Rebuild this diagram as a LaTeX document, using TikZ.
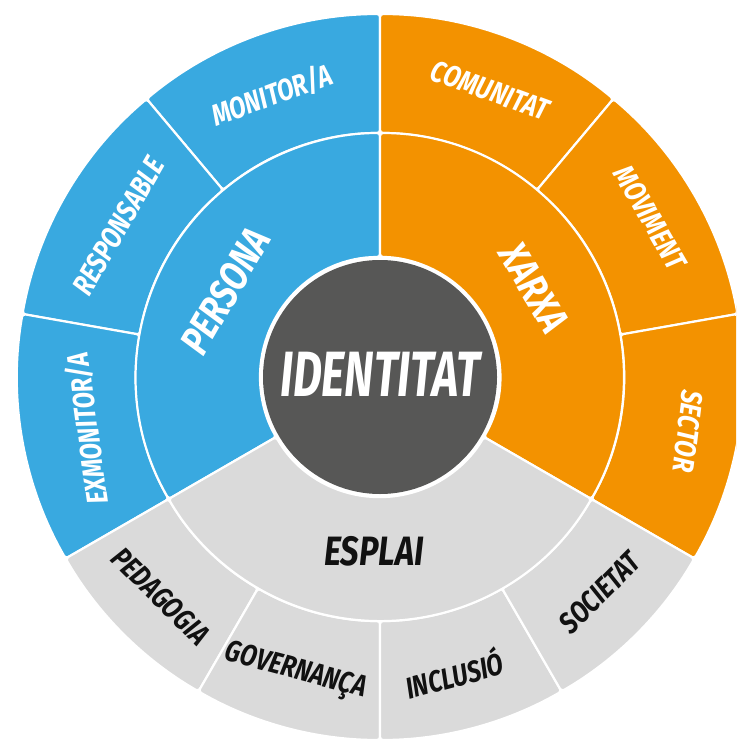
\documentclass[tikz,border=0pt]{standalone}
\usepackage{fontspec}
\newfontfamily\hand{Fira Sans}[FakeStretch=0.8]
\newfontfamily\handid{Fira Sans}[FakeStretch=0.7]
\definecolor{cblue}{HTML}{39A9E0}
\definecolor{corange}{HTML}{F39200}
\definecolor{cgrey}{HTML}{DADADA}
\definecolor{cdark}{HTML}{575756}
\definecolor{ctext}{HTML}{111111}
\newcommand\annseg[5]{%
  \filldraw[fill=#1, draw=white, line width=2.2pt, rounded corners=3pt]
    (#2:#4) arc[start angle=#2, end angle=#3, radius=#4]
    -- (#3:#5) arc[start angle=#3, end angle=#2, radius=#5] -- cycle;}
\tikzset{
  outerlbl/.style={font=\hand\bfseries\itshape\fontsize{30}{30}\selectfont, inner sep=0pt},
  innerlbl/.style={font=\hand\bfseries\itshape\fontsize{41}{41}\selectfont, inner sep=0pt},
  onblue/.style={text=white},
  ongrey/.style={text=ctext},
}
\begin{document}
\begin{tikzpicture}[x=1pt,y=1pt]
\useasboundingbox (0,0) rectangle (736,-741);
\clip (0,0) rectangle (736,-741);
\begin{scope}[shift={(380,-377)}]
  % outer ring
  \annseg{cblue}{90}{130}{244}{363}
  \annseg{cblue}{130}{170}{244}{363}
  \annseg{cblue}{170}{210}{244}{363}
  \annseg{corange}{50}{90}{244}{363}
  \annseg{corange}{10}{50}{244}{363}
  \annseg{corange}{-30}{10}{244}{363}
  \annseg{cgrey}{210}{240}{244}{363}
  \annseg{cgrey}{240}{270}{244}{363}
  \annseg{cgrey}{270}{300}{244}{363}
  \annseg{cgrey}{300}{330}{244}{363}
  % inner ring
  \annseg{cblue}{90}{210}{120}{244}
  \annseg{corange}{-30}{90}{120}{244}
  \annseg{cgrey}{210}{330}{120}{244}
  % centre
  \fill[cdark] (0,0) circle (117);
  \node[font=\handid\bfseries\itshape\fontsize{64}{64}\selectfont, text=white, inner sep=0pt] (identitat) at (0,3) {IDENTITAT};
  % inner labels
  \node[innerlbl, onblue, rotate=60] (persona) at (151:177) {PERSONA};
  \node[innerlbl, onblue, rotate=-60] (xarxa) at (30:178) {XARXA};
  \node[innerlbl, ongrey] (esplai) at (268:174) {ESPLAI};
  % outer labels
  \node[outerlbl, onblue, rotate=20] (monitora) at (111:302) {MONITOR/A};
  \node[outerlbl, onblue, rotate=60] (responsable) at (150:302) {RESPONSABLE};
  \node[outerlbl, onblue, rotate=98] (exmonitora) at (190:297) {EXMONITOR/A};
  \node[outerlbl, onblue, rotate=-20] (comunitat) at (69:307) {COMUNITAT};
  \node[outerlbl, onblue, rotate=-60] (moviment) at (30.5:314) {MOVIMENT};
  \node[outerlbl, onblue, rotate=-97] (sector) at (-10:313) {SECTOR};
  \node[outerlbl, ongrey, rotate=-45] (pedagogia) at (225:310) {PEDAGOGIA};
  \node[outerlbl, ongrey, rotate=-15] (governanca) at (254:307) {GOVERNANÇA};
  \node[outerlbl, ongrey, rotate=15] (inclusio) at (284:305) {INCLUSIÓ};
  \node[outerlbl, ongrey, rotate=45] (societat) at (315.5:308) {SOCIETAT};
\end{scope}
\end{tikzpicture}
\end{document}
